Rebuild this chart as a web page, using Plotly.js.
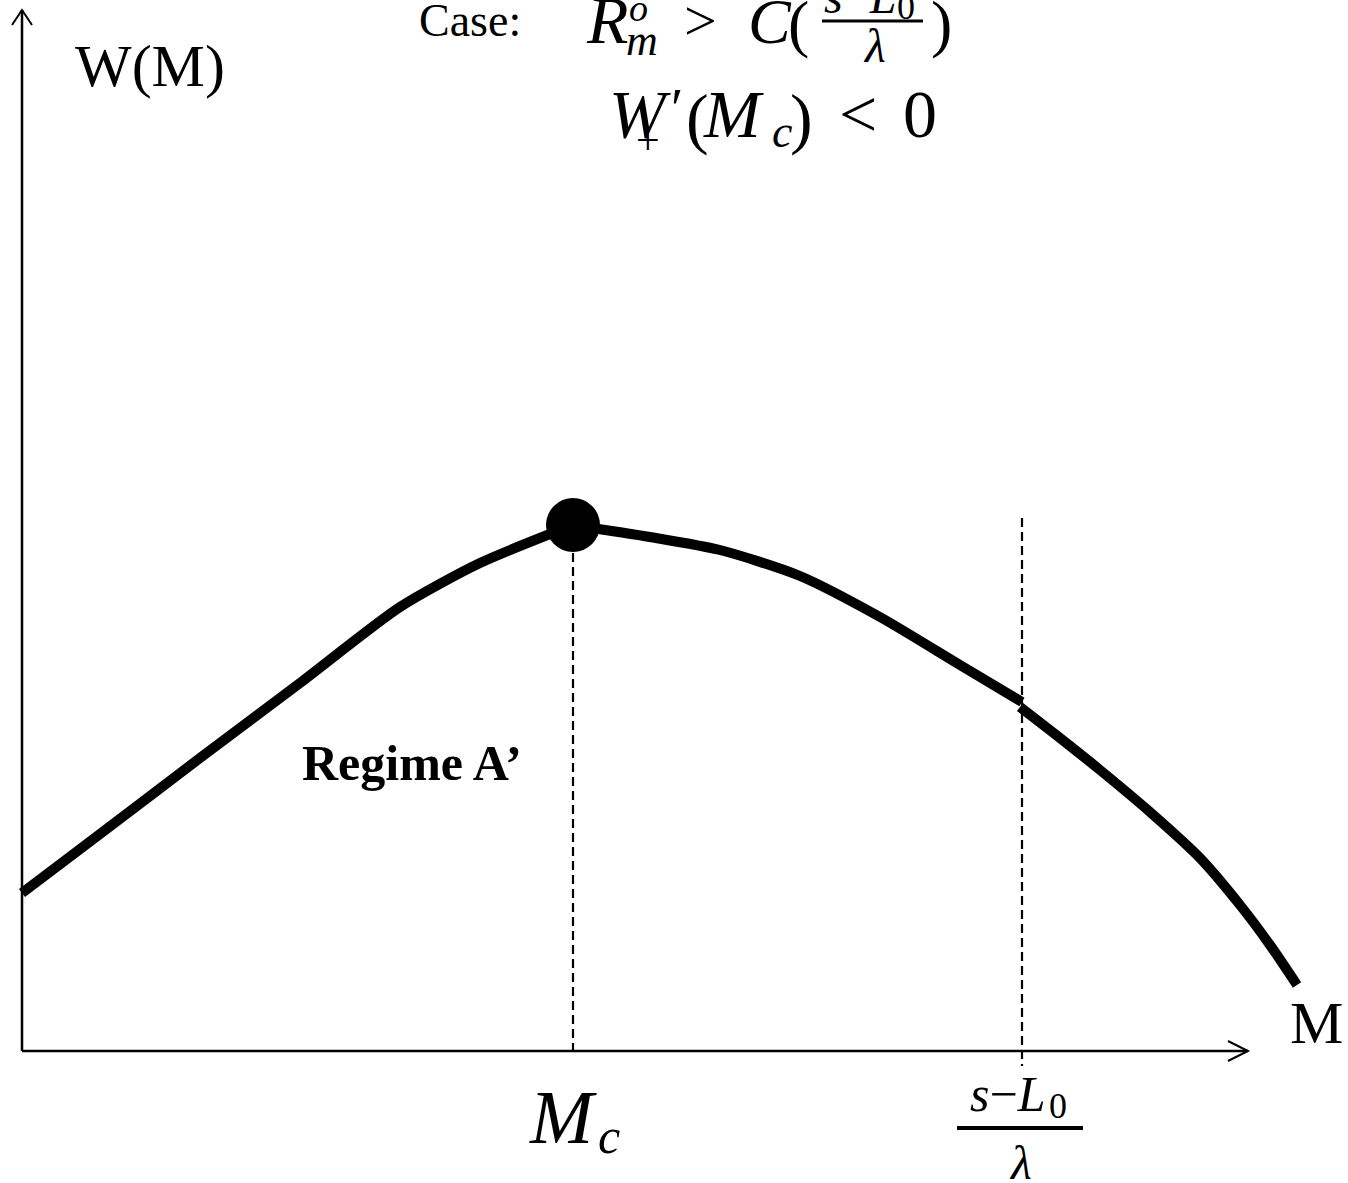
<!DOCTYPE html>
<html>
<head>
<meta charset="utf-8">
<script src="https://cdn.plot.ly/plotly-3.0.1.min.js"></script>
<style>
  html, body { margin: 0; padding: 0; background: #fff; }
  #chart { width: 1348px; height: 1183px; }
</style>
</head>
<body>
<div id="chart"></div>
<script>
// Welfare W(M) as a function of M, in three pieces
const M_left  = [0, 0.78, 1.78, 2.78, 3.78, 4.58, 5.51];
const W_left  = [1.58, 2.17, 2.93, 3.68, 4.44, 4.88, 5.26];
const M_mid   = [5.51, 6.28, 6.98, 7.78, 8.58, 9.38, 10.00];
const W_mid   = [5.26, 5.14, 5.01, 4.75, 4.34, 3.86, 3.49];
const M_right = [9.98, 10.38, 10.78, 11.28, 11.78, 12.18, 12.48, 12.75];
const W_right = [3.44, 3.13, 2.81, 2.39, 1.93, 1.46, 1.06, 0.66];

// Critical point M_c and threshold (s - L0)/lambda
const M_c = 5.51, W_c = 5.26;
const M_s = 10.00;

const W_PX = 1348, H_PX = 1183;
const X0 = 22, Y0 = 1051, UNIT = 100;          // axis origin on the page, pixels per unit
const xRange = [-X0 / UNIT, (W_PX - X0) / UNIT];
const yRange = [(Y0 - H_PX) / UNIT, Y0 / UNIT];
const X = px => (px - X0) / UNIT;
const Y = py => (Y0 - py) / UNIT;

const SERIF = 'Liberation Serif, Times New Roman, serif';
const curveLine = { color: '#000', width: 10, shape: 'spline', smoothing: 0.7 };

const traces = [
  { x: M_left,  y: W_left,  mode: 'lines', line: curveLine, hoverinfo: 'skip' },
  { x: M_mid,   y: W_mid,   mode: 'lines', line: curveLine, hoverinfo: 'skip' },
  { x: M_right, y: W_right, mode: 'lines', line: curveLine, hoverinfo: 'skip' },
  { x: [M_c], y: [W_c], mode: 'markers', marker: { color: '#000', size: 54 }, hoverinfo: 'skip' }
];

// text placed by centre x and baseline y (page pixels);
// 'low' anchors the box by its bottom edge so text near the top edge stays drawn
function lab(text, cx, base, size, low) {
  const a = {
    text: text, xref: 'x', yref: 'y',
    x: X(cx), y: Y(base - 0.3375 * size),
    xanchor: 'center', yanchor: 'middle',
    showarrow: false, borderpad: 0,
    font: { family: SERIF, size: size, color: '#000' }
  };
  if (low) { a.y = Y(base + 0.216 * size); a.yanchor = 'bottom'; }
  return a;
}

const annotations = [
  // heading: Case: R_m^o > C((s-L0)/lambda)
  lab('Case:', 470, 36, 46),
  lab('<i>R</i>', 607, 44, 68, true),
  lab('<i>o</i>', 638, 22, 38, true),
  lab('<i>m</i>', 642, 55, 44),
  lab('>', 700, 40, 58),
  lab('<i>C</i>', 770, 44, 64, true),
  lab('(', 798, 46, 64, true),
  lab('<i>s</i>−<i>L</i>', 860, 14, 48, true),
  lab('0', 906, 20, 36, true),
  lab('<i>λ</i>', 874, 62, 48),
  lab(')', 941, 46, 64, true),
  // W'_+(M_c) < 0
  lab('<i>W</i>', 640, 137, 68),
  lab('′', 677, 128, 56),
  lab('+', 648, 154, 42),
  lab('(', 697, 141, 68),
  lab('<i>M</i>', 733, 137, 68),
  lab('<i>c</i>', 782, 147, 46),
  lab(')', 801, 141, 68),
  lab('<', 858, 137, 68),
  lab('0', 920, 137, 68),
  // axis names
  lab('W(M)', 150, 86, 60),
  lab('M', 1316, 1043, 60),
  // labels under the axis
  lab('<i>M</i>', 563, 1143, 76),
  lab('<i>c</i>', 609, 1153, 50),
  lab('<i>s</i>−<i>L</i>', 1007, 1111, 50),
  lab('0', 1058, 1118, 36),
  lab('<i>λ</i>', 1020, 1179, 48),
  // regime label
  lab('<b>Regime A’</b>', 412, 780, 50)
];

const axisLine = { color: '#000', width: 2.5 };
const dashLine = { color: '#000', width: 2.2, dash: '9px,5px' };

const shapes = [
  // axes
  { type: 'line', xref: 'x', yref: 'y', x0: 0, y0: 0, x1: X(1248), y1: 0, line: axisLine },
  { type: 'line', xref: 'x', yref: 'y', x0: 0, y0: 0, x1: 0, y1: Y(10), line: axisLine },
  { type: 'path', xref: 'x', yref: 'y', line: { color: '#000', width: 2 },
    path: `M ${X(1228)} ${Y(1041)} L ${X(1248)} ${Y(1051)} L ${X(1228)} ${Y(1061)}` },
  { type: 'path', xref: 'x', yref: 'y', line: { color: '#000', width: 2 },
    path: `M ${X(12)} ${Y(25)} L ${X(22)} ${Y(10)} L ${X(32)} ${Y(25)}` },
  // guides at M_c and at (s-L0)/lambda
  { type: 'line', xref: 'x', yref: 'y', x0: M_c, y0: W_c, x1: M_c, y1: 0, line: dashLine, layer: 'below' },
  { type: 'line', xref: 'x', yref: 'y', x0: M_s, y0: Y(518), x1: M_s, y1: Y(1066), line: dashLine, layer: 'below' },
  // fraction bars
  { type: 'line', xref: 'x', yref: 'y', x0: X(822), y0: Y(21), x1: X(923), y1: Y(21), line: { color: '#000', width: 3 } },
  { type: 'line', xref: 'x', yref: 'y', x0: X(957), y0: Y(1128), x1: X(1083), y1: Y(1128), line: { color: '#000', width: 4 } }
];

const layout = {
  width: W_PX, height: H_PX,
  margin: { l: 0, r: 0, t: 0, b: 0, pad: 0 },
  paper_bgcolor: '#fff', plot_bgcolor: '#fff',
  showlegend: false, hovermode: false,
  xaxis: { range: xRange, visible: false, fixedrange: true },
  yaxis: { range: yRange, visible: false, fixedrange: true },
  shapes: shapes,
  annotations: annotations
};

Plotly.newPlot('chart', traces, layout, { displayModeBar: false, staticPlot: true });
</script>
</body>
</html>
